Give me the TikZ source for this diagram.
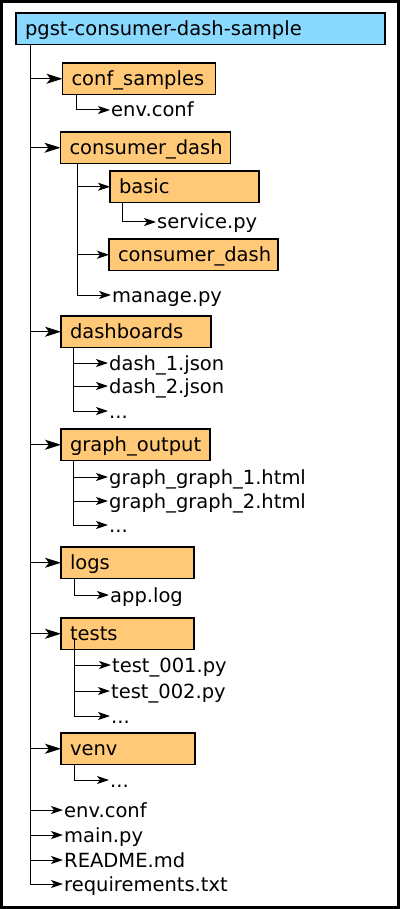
\documentclass[tikz,border=0pt]{standalone}
\usepackage{fontspec}
\setmainfont{DejaVu Sans}
\usetikzlibrary{arrows.meta}
\definecolor{rootblue}{RGB}{138,217,255}
\definecolor{dirorange}{RGB}{255,201,120}

\begin{document}
\begin{tikzpicture}[x=1pt, y=-1pt,
  every node/.style={font=\fontsize{19.5}{23}\selectfont},
  Dn/.style={draw, line width=1.6pt, fill=dirorange, anchor=north west,
    outer sep=0pt, inner xsep=9pt, inner ysep=0pt, minimum height=31.5pt,
    text height=15pt, text depth=1.5pt, text width=#1},
  Rn/.style={Dn=#1, fill=rootblue},
  Fn/.style={anchor=base west, inner xsep=1pt, inner ysep=0pt,
    text height=14pt, text depth=0pt},
  link/.style={line width=1pt, -{Stealth[length=12pt, width=8pt, inset=3pt]}},
  trunk/.style={line width=1pt, -{Stealth[length=16pt, width=10pt, inset=4pt]}}]
\useasboundingbox (0,0) rectangle (400,909);
\draw[line width=2.6pt] (1.3,1.3) rectangle (398.7,907.7);

\node[Rn=351pt] (root) at (16,13) {pgst-consumer-dash-sample};
\node[Dn=135pt] (cs) at (62.5,63) {conf\_samples};
\node[Fn] (cs1) at (110,117) {env.conf};
\node[Dn=152pt] (cd) at (60.5,132) {consumer\_dash};
\node[Dn=131pt] (basic) at (110,171) {basic};
\node[Fn] (svc) at (156,229) {service.py};
\node[Dn=151pt] (cd2) at (109,239) {consumer\_dash};
\node[Fn] (mng) at (111,302) {manage.py};
\node[Dn=132pt] (dsh) at (61,316) {dashboards};
\node[Fn] (dsh1) at (108,370) {dash\_1.json};
\node[Fn] (dsh2) at (108,393) {dash\_2.json};
\node[Fn] (dsh3) at (108,418) {...};
\node[Dn=131pt] (gro) at (61,429) {graph\_output};
\node[Fn] (gro1) at (108,484) {graph\_graph\_1.html};
\node[Fn] (gro2) at (108,508) {graph\_graph\_2.html};
\node[Fn] (gro3) at (108,532) {...};
\node[Dn=115pt] (logs) at (61,547) {logs};
\node[Fn] (logs1) at (109,602) {app.log};
\node[Dn=115pt] (tests) at (61,618) {tests};
\node[Fn] (tests1) at (111,672) {test\_001.py};
\node[Fn] (tests2) at (110,698) {test\_002.py};
\node[Fn] (tests3) at (110,723) {...};
\node[Dn=116pt] (venv) at (61,733) {venv};
\node[Fn] (venv1) at (109,787) {...};
\node[Fn] (envc) at (63,817) {env.conf};
\node[Fn] (main) at (63,842) {main.py};
\node[Fn] (readme) at (63,867) {README.md};
\node[Fn] (req) at (63,891) {requirements.txt};

\coordinate (tr) at (30,44);
\draw[line width=1pt] (tr |- root.south) -- (tr |- req.west);
\foreach \n in {cs,cd,dsh,gro,logs,tests,venv}
  \draw[trunk] (tr |- \n.west) -- (\n.west);
\foreach \n in {envc,main,readme,req}
  \draw[link] (tr |- \n.west) -- (\n.west);

\draw[link] ([xshift=13.5pt]cs.south west) |- (cs1.west);

\coordinate (cdt) at ([xshift=16.5pt]cd.south west);
\draw[link] (cdt) |- (mng.west);
\foreach \n in {basic,cd2}
  \draw[link] (cdt |- \n.west) -- (\n.west);
\draw[link] ([xshift=12pt]basic.south west) |- (svc.west);

\coordinate (dsht) at ([xshift=12pt]dsh.south west);
\draw[link] (dsht) |- (dsh3.west);
\foreach \n in {dsh1,dsh2}
  \draw[link] (dsht |- \n.west) -- (\n.west);

\coordinate (grot) at ([xshift=12pt]gro.south west);
\draw[link] (grot) |- (gro3.west);
\foreach \n in {gro1,gro2}
  \draw[link] (grot |- \n.west) -- (\n.west);

\draw[link] ([xshift=13pt]logs.south west) |- (logs1.west);

\coordinate (testt) at ([xshift=13pt, yshift=12pt]tests.south west);
\draw[link] (testt) |- (tests3.west);
\foreach \n in {tests1,tests2}
  \draw[link] (testt |- \n.west) -- (\n.west);

\draw[link] ([xshift=13pt]venv.south west) |- (venv1.west);
\end{tikzpicture}
\end{document}
